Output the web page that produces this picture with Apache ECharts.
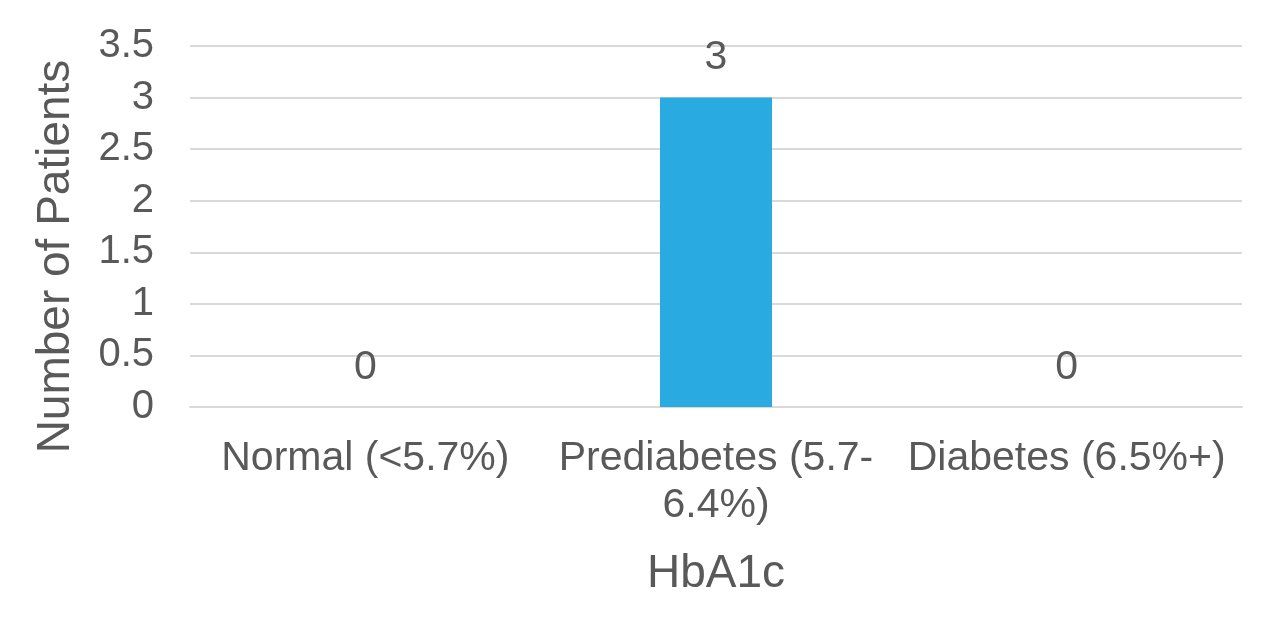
<!DOCTYPE html>
<html>
<head>
<meta charset="utf-8">
<script src="https://cdn.jsdelivr.net/npm/echarts@6/dist/echarts.min.js"></script>
<style>
html,body{margin:0;padding:0;background:#fff;}
#c{width:1286px;height:628px;}
</style>
</head>
<body>
<div id="c"></div>
<script>
const categories = ['Normal (<5.7%)', 'Prediabetes (5.7-6.4%)', 'Diabetes (6.5%+)'];
const patients = [0, 3, 0];
const yTicks = [0, 0.5, 1, 1.5, 2, 2.5, 3, 3.5];

const chart = echarts.init(document.getElementById('c'), null, {renderer: 'canvas'});
const font = '"Liberation Sans", Arial, sans-serif';
const txt = '#595959';
chart.setOption({
  animation: false,
  backgroundColor: '#ffffff',
  textStyle: {fontFamily: font},
  grid: {left: 190, right: 44, top: 46, bottom: 221},
  xAxis: {
    type: 'category',
    data: categories,
    name: 'HbA1c',
    nameLocation: 'middle',
    nameGap: 144,
    nameTextStyle: {fontSize: 46, color: txt, fontFamily: font},
    axisLine: {show: true, lineStyle: {color: '#d9d9d9', width: 2}},
    axisTick: {show: false},
    axisLabel: {
      fontSize: 41, color: txt, fontFamily: font, margin: 28, lineHeight: 47,
      interval: 0,
      formatter: v => v.replace('5.7-6', '5.7-\n6')
    }
  },
  yAxis: {
    type: 'value',
    min: yTicks[0],
    max: yTicks[yTicks.length - 1],
    interval: 0.5,
    name: 'Number of Patients',
    nameLocation: 'middle',
    nameGap: 111,
    nameTextStyle: {fontSize: 46, color: txt, fontFamily: font, padding: [0, 60, 0, 0]},
    axisLine: {show: false},
    axisTick: {show: false},
    axisLabel: {fontSize: 40, color: txt, fontFamily: font, margin: 36},
    splitLine: {lineStyle: {color: '#d9d9d9', width: 2}}
  },
  series: [{
    type: 'bar',
    data: patients,
    barWidth: 112,
    itemStyle: {color: '#29abe2'},
    label: {show: true, position: 'top', distance: 19, fontSize: 41, color: txt, fontFamily: font}
  }]
});
</script>
</body>
</html>
